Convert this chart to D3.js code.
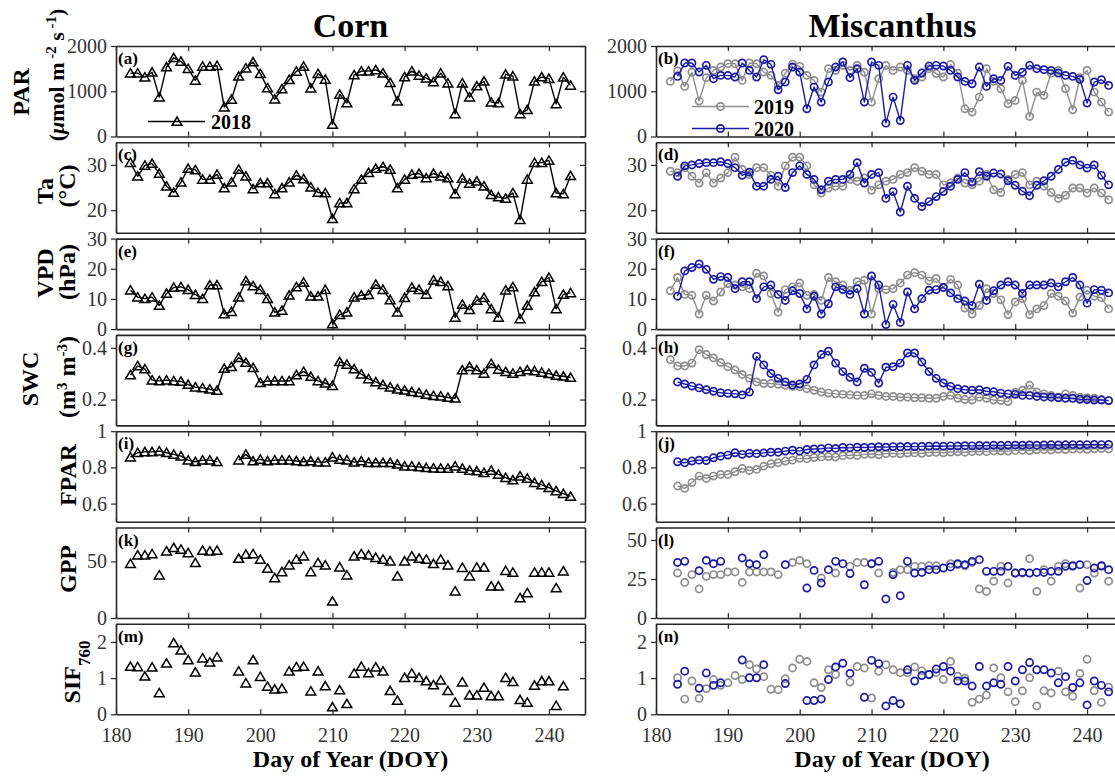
<!DOCTYPE html>
<html>
<head>
<meta charset="utf-8">
<script src="https://cdn.jsdelivr.net/npm/d3@7"></script>
<style>
  html, body { margin: 0; padding: 0; background: #fff; overflow: hidden; }
  svg { display: block; }
</style>
</head>
<body>
<svg id="chart" width="1115" height="776"></svg>
<script>
// ---------------- data ----------------
const cornDays = d3.range(182, 244);   // 2018 corn, DOY 182-243
const mis19Days = d3.range(182, 244);  // 2019 miscanthus
const mis20Days = d3.range(183, 244);  // 2020 miscanthus
const mis19LateDays = d3.range(183, 244);

const xTickValues = [180, 190, 200, 210, 220, 230, 240];

// Corn 2018
const parCorn = [1400,1400,1310,1420,870,1535,1740,1660,1500,1240,
  1550,1550,1565,650,820,1330,1510,1645,1390,1075,
  825,1050,1255,1440,1550,1070,1390,1260,265,930,
  740,1360,1445,1445,1470,1400,1190,780,1315,1445,
  1350,1290,1205,1400,1180,500,1180,870,1115,1220,
  760,740,1375,1335,500,590,1220,1315,1280,720,
  1310,1130];
const taCorn = [30.5,27.5,29.9,30.3,28.1,25.3,23.9,26.2,29.2,28.9,
  26.8,26.8,27.9,24.9,26.2,29.0,27.5,24.7,26.0,26.0,
  23.6,24.9,26.2,27.7,26.9,25.1,23.9,23.8,18.1,21.6,
  21.6,24.7,26.8,28.3,29.2,29.6,29.0,24.9,26.8,27.9,
  28.1,27.1,28.1,27.5,27.1,23.6,27.0,25.9,26.4,25.3,
  23.4,22.9,22.6,23.8,17.9,26.8,30.5,30.5,31.0,23.8,
  23.6,27.6];
const vpdCorn = [12.9,10.6,10.1,10.6,7.8,11.8,13.8,14.0,13.1,11.4,
  10.1,14.6,14.6,5.0,5.8,10.6,16.0,14.3,13.1,10.1,
  5.6,6.2,11.2,14.0,15.5,10.9,10.9,13.1,1.7,4.8,
  5.6,10.6,11.2,11.4,14.8,13.1,9.7,5.6,10.4,13.8,
  13.1,11.5,16.2,15.7,14.3,3.9,8.2,6.4,9.5,10.4,
  6.7,3.9,12.9,14.0,3.4,7.8,12.3,15.7,17.1,6.7,
  11.5,12.0];
const swcCorn = [0.295,0.330,0.318,0.275,0.272,0.275,0.272,0.270,0.258,0.248,
  0.245,0.240,0.235,0.320,0.327,0.362,0.343,0.323,0.265,0.272,
  0.272,0.272,0.272,0.295,0.308,0.289,0.272,0.263,0.254,0.346,
  0.336,0.318,0.298,0.280,0.268,0.257,0.248,0.240,0.236,0.230,
  0.226,0.220,0.215,0.213,0.208,0.205,0.314,0.327,0.314,0.301,
  0.339,0.316,0.308,0.301,0.308,0.314,0.311,0.305,0.300,0.293,
  0.290,0.285];
const fparCorn = [0.857,0.881,0.886,0.886,0.890,0.881,0.872,0.862,0.840,0.831,
  0.840,0.840,0.831,null,null,0.840,0.872,0.835,0.844,0.835,
  0.840,0.840,0.840,0.835,0.831,0.835,0.829,0.829,0.857,0.844,
  0.840,0.829,0.835,0.826,0.826,0.826,0.826,0.817,0.807,0.807,
  0.802,0.798,0.796,0.794,0.794,0.807,0.794,0.783,0.780,0.771,
  0.783,0.761,0.743,0.730,0.752,0.739,0.716,0.703,0.688,0.670,
  0.655,0.640];
const gppCorn = [48.0,55.6,55.6,56.7,37.9,59.1,62.1,60.6,57.6,48.8,
  59.7,59.1,59.7,null,null,52.6,56.2,56.7,51.8,43.8,
  35.5,40.8,46.7,51.8,54.7,40.8,48.8,46.7,14.8,45.0,
  37.9,54.7,56.7,55.6,53.4,51.8,50.3,37.0,50.3,54.7,
  52.6,51.8,47.9,51.8,46.7,23.7,44.5,37.0,44.7,44.7,
  28.1,28.1,41.8,40.3,17.7,22.2,40.3,40.3,40.3,26.6,
  41.4,null];
const sifCorn = [1.32,1.31,1.05,1.30,0.59,1.41,1.97,1.77,1.50,1.16,
  1.55,1.44,1.58,null,null,1.19,0.86,1.50,1.04,0.77,
  0.69,0.71,1.19,1.31,1.32,0.64,1.19,0.78,0.20,0.67,
  0.29,1.13,1.32,1.14,1.30,1.19,0.65,0.38,1.01,1.13,
  1.01,0.92,0.81,0.94,0.65,0.33,0.89,0.53,0.53,0.74,
  0.51,0.51,1.01,0.90,0.40,0.33,0.80,0.92,0.92,0.24,
  0.78,null];

// Miscanthus 2019 (DOY 182-243)
const par19 = [1218,1450,1107,1420,782,1299,1460,1535,1610,1610,
  1240,1624,1610,1424,1350,1129,1400,1600,1550,1350,
  1240,981,1500,1460,1570,1460,1570,1420,760,1277,
  1570,1460,1535,1460,1277,1314,1500,1390,1314,1590,
  1400,612,539,871,1500,1218,1055,723,797,1240,
  443,981,907,1400,1460,1055,590,1300,1461,981,
  760,539];
const ta19 = [28.6,28.3,29.4,27.5,26.0,28.3,26.0,27.1,28.3,31.7,
  29.0,27.9,29.4,29.4,27.7,25.3,29.8,31.7,31.7,29.8,
  25.6,23.8,24.9,25.3,25.3,26.8,26.4,27.1,24.4,25.6,
  26.4,26.8,27.9,28.3,29.4,28.6,27.9,27.9,25.6,26.0,
  27.1,26.0,25.6,26.4,27.9,24.5,23.9,26.8,27.9,28.3,
  25.6,26.4,25.3,23.9,22.6,23.3,24.9,24.9,23.8,24.9,
  23.8,22.3];
const vpd19 = [12.7,17.1,11.5,11.2,5.0,11.2,9.3,12.3,15.1,14.6,
  14.0,13.4,18.5,17.6,11.8,5.6,13.1,14.0,15.3,11.2,
  11.5,9.5,17.1,15.7,14.6,12.9,15.7,16.2,5.0,13.4,
  13.1,13.4,15.3,17.9,18.7,17.9,16.0,16.8,13.8,16.5,
  14.6,7.0,5.0,7.8,13.4,11.8,9.7,4.8,9.0,10.1,
  4.8,6.7,7.8,11.8,10.9,9.3,5.3,10.6,12.9,10.9,
  10.4,6.7];
const swc19 = [0.354,0.330,0.330,0.341,0.393,0.374,0.361,0.343,0.327,0.314,
  0.297,0.282,0.268,0.262,0.262,0.259,0.255,0.251,0.249,0.242,
  0.236,0.229,0.225,0.222,0.220,0.218,0.216,0.216,0.222,0.216,
  0.212,0.212,0.209,0.209,0.207,0.207,0.205,0.205,0.212,0.216,
  0.205,0.200,0.198,0.209,0.205,0.198,0.196,0.192,0.228,0.236,
  0.255,0.229,0.222,0.216,0.209,0.222,0.216,0.209,0.207,0.205,
  0.200,0.196];
// Miscanthus 2019 (DOY 183-243)
const fpar19 = [0.697,0.684,0.716,0.752,0.739,0.752,0.761,0.761,0.776,0.794,
  0.783,0.789,0.807,0.820,0.826,0.835,0.840,0.850,0.848,0.855,
  0.858,0.860,0.857,0.865,0.868,0.866,0.872,0.874,0.870,0.876,
  0.877,0.875,0.879,0.880,0.878,0.882,0.883,0.881,0.885,0.886,
  0.884,0.888,0.889,0.887,0.891,0.892,0.890,0.894,0.895,0.893,
  0.897,0.898,0.896,0.900,0.899,0.901,0.902,0.900,0.903,0.904,
  0.902];
const gpp19 = [28.8,22.8,27.8,18.6,26.7,27.8,27.8,29.5,29.5,22.8,
  29.5,29.5,29.5,29.5,27.8,null,35.6,36.9,34.8,null,
  25.6,null,28.8,null,33.1,35.6,35.6,34.8,28.8,null,
  29.2,31.0,31.0,33.1,33.1,33.5,33.5,null,34.8,34.2,
  33.5,35.6,18.6,17.0,23.6,33.1,22.4,28.8,28.8,38.0,
  17.0,31.0,23.6,33.1,34.8,33.1,19.2,34.2,28.8,33.1,
  23.6];
const sif19 = [1.01,0.42,0.92,0.44,0.71,0.96,0.80,0.87,1.07,0.96,
  1.37,1.25,1.04,0.69,0.68,0.98,1.28,1.52,1.46,0.87,
  0.74,1.23,1.10,null,0.89,1.32,1.28,0.45,1.19,1.37,
  1.23,1.15,1.15,1.31,1.20,1.10,1.15,0.96,1.46,1.05,
  1.00,0.33,0.42,0.53,1.28,1.01,0.62,0.35,0.65,1.01,
  0.23,0.65,0.59,1.19,0.62,0.50,1.13,1.52,0.65,0.33,
  0.75];

// Miscanthus 2020 (DOY 183-243)
const par20 = [1328,1624,1624,1424,1572,1277,1350,1350,1314,1624,
  1461,1314,1697,1594,1033,1203,1535,1424,612,1092,
  760,1203,1535,1646,1299,1498,760,1646,1572,295,
  871,354,1572,1240,1402,1557,1572,1557,1461,1314,
  1218,1166,1535,1107,1277,1240,1550,1350,1420,1572,
  1498,1476,1461,1402,1350,1328,1262,738,1203,1255,
  1129];
const ta20 = [27.5,29.8,30.0,30.3,30.5,30.5,30.7,30.3,29.4,27.7,
  28.4,25.3,25.3,26.8,27.5,25.0,28.3,29.8,27.9,26.8,
  24.5,26.4,26.8,26.8,27.9,30.5,26.0,27.9,28.3,22.6,
  24.1,19.6,25.3,22.6,20.8,21.9,23.0,24.1,25.3,26.8,
  28.3,26.2,28.5,27.5,28.2,28.0,26.5,25.5,24.2,23.2,
  25.5,26.5,27.5,29.0,30.6,31.0,30.0,29.3,30.0,27.7,
  25.6];
const vpd20 = [10.9,19.3,20.4,21.6,19.8,16.5,17.4,17.1,13.4,15.7,
  15.7,10.1,14.0,14.6,11.5,9.5,12.7,11.8,6.7,10.9,
  5.0,8.4,14.0,13.1,11.5,13.4,5.0,17.6,14.6,1.5,
  8.2,2.2,12.3,6.7,10.1,12.9,13.1,13.8,12.0,10.1,
  9.3,7.8,14.9,9.5,12.7,14.6,15.7,14.6,11.8,14.6,
  14.6,14.6,15.3,14.0,15.7,17.1,14.6,8.6,13.1,12.9,
  12.0];
const swc20 = [0.268,0.260,0.252,0.245,0.238,0.232,0.226,0.224,0.222,0.218,
  0.229,0.367,0.334,0.301,0.282,0.268,0.256,0.260,0.278,0.334,
  0.374,0.387,0.341,0.308,0.286,0.268,0.321,0.305,0.264,0.325,
  0.327,0.341,0.380,0.380,0.345,0.308,0.282,0.264,0.251,0.242,
  0.238,0.236,0.238,0.232,0.230,0.225,0.222,0.220,0.216,0.216,
  0.212,0.210,0.209,0.207,0.205,0.205,0.201,0.200,0.198,0.198,
  0.196];
const fpar20 = [0.831,0.826,0.835,0.840,0.838,0.853,0.862,0.868,0.881,0.872,
  0.878,0.876,0.880,0.884,0.884,0.890,0.895,0.890,0.899,0.902,
  0.903,0.908,0.905,0.910,0.908,0.912,0.910,0.912,0.914,0.912,
  0.915,0.914,0.916,0.915,0.916,0.917,0.918,0.917,0.919,0.918,
  0.920,0.919,0.921,0.920,0.922,0.921,0.922,0.923,0.922,0.924,
  0.923,0.924,0.925,0.924,0.925,0.926,0.925,0.926,0.927,0.926,
  0.927];
const gpp20 = [35.6,36.3,null,30.3,36.9,34.8,36.3,null,null,38.5,
  34.8,34.2,40.6,null,null,34.2,null,null,19.2,30.5,
  22.4,31.0,36.3,34.8,28.5,null,21.3,34.8,36.3,12.2,
  27.8,14.3,36.3,28.8,29.2,31.0,31.0,32.0,32.7,34.8,
  34.2,36.3,37.4,29.9,29.9,29.9,33.1,28.8,29.2,28.8,
  29.2,29.2,29.9,29.9,33.1,33.5,34.2,24.0,32.0,33.5,
  31.0];
const sif20 = [0.83,1.19,null,0.72,1.14,0.80,0.87,null,null,1.50,
  1.01,1.01,1.37,null,null,0.85,null,null,0.38,0.38,
  0.42,0.96,1.31,1.41,1.13,null,0.47,1.49,1.40,0.23,
  0.38,0.29,1.23,0.92,1.07,1.10,1.25,1.32,1.19,0.92,
  0.92,0.78,1.32,0.78,0.87,0.83,1.32,0.92,1.23,1.43,
  1.23,1.23,1.14,0.87,1.04,0.74,0.87,0.26,0.92,0.80,
  0.62];

// ---------------- styling / layout ----------------
const svg = d3.select('#chart');
const SERIF = '"Liberation Serif","Times New Roman",Times,serif';
const INK = '#262626';
const BLUE = '#1b1ba6';
const GREY = '#8e8e8e';
const colRange = [[116, 585], [656, 1123]];
const rowTop = r => 46 + r * 96.3;
const rowH = 90.5;
const TICK_FONT = '20px';

const triPath = 'M0,-4.5L4.9,3.8L-4.9,3.8Z';

function addSeries(g, x, y, s) {
  const data = s.days.map((d, i) => ({ d, v: s.values[i] }));
  if (s.line) {
    g.append('path').datum(data)
      .attr('fill', 'none').attr('stroke', s.color).attr('stroke-width', 1.4)
      .attr('stroke-linejoin', 'round')
      .attr('d', d3.line().defined(p => p.v != null).x(p => x(p.d)).y(p => y(p.v)));
  }
  const pts = data.filter(p => p.v != null);
  if (s.marker === 'tri') {
    g.selectAll(null).data(pts).join('path')
      .attr('d', triPath)
      .attr('transform', p => `translate(${x(p.d)},${y(p.v)})`)
      .attr('fill', 'none').attr('stroke', s.color).attr('stroke-width', 1.5);
  } else {
    g.selectAll(null).data(pts).join('circle')
      .attr('cx', p => x(p.d)).attr('cy', p => y(p.v)).attr('r', 3.6)
      .attr('fill', 'none').attr('stroke', s.color).attr('stroke-width', 1.7);
  }
}

function styleAxis(sel) {
  sel.select('.domain').attr('stroke', INK).attr('stroke-width', 1.6);
  sel.selectAll('.tick line').attr('stroke', INK).attr('stroke-width', 1.2);
  sel.selectAll('.tick text').attr('fill', '#333')
    .style('font-family', SERIF).style('font-size', TICK_FONT);
}

const plainNum = d => String(d);

function drawPanel(col, row, spec) {
  const x = d3.scaleLinear().domain([180, 245]).range(colRange[col]);
  const top = rowTop(row), bot = top + rowH;
  const y = d3.scaleLinear().domain(spec.domain).range([bot, top]);
  const g = svg.append('g');

  spec.series.forEach(s => addSeries(g, x, y, s));

  if (spec.legend) spec.legend(g);

  // panel tag
  g.append('text').attr('x', colRange[col][0] + 2).attr('y', top + 18)
    .style('font-family', SERIF).style('font-size', '17px').style('font-weight', 'bold')
    .attr('fill', '#000').text(spec.tag);

  const isBottom = row === 6;
  g.append('g').attr('transform', `translate(0,${bot})`)
    .call(d3.axisBottom(x).tickValues(xTickValues).tickSize(-5).tickSizeOuter(0)
      .tickPadding(14).tickFormat(isBottom ? plainNum : () => ''))
    .call(styleAxis);
  g.append('g').attr('transform', `translate(0,${top})`)
    .call(d3.axisTop(x).tickValues(xTickValues).tickSize(-5).tickSizeOuter(0).tickFormat(() => ''))
    .call(styleAxis);
  g.append('g').attr('transform', `translate(${colRange[col][0]},0)`)
    .call(d3.axisLeft(y).tickValues(spec.ticks).tickSize(5).tickPadding(4).tickSizeOuter(0)
      .tickFormat(plainNum))
    .call(styleAxis);
  g.append('g').attr('transform', `translate(${colRange[col][1]},0)`)
    .call(d3.axisRight(y).tickValues(spec.ticks).tickSize(-5).tickSizeOuter(0).tickFormat(() => ''))
    .call(styleAxis);

  if (isBottom) {
    g.append('text')
      .attr('x', col === 0 ? 350.5 : 892)
      .attr('y', 767).attr('text-anchor', 'middle')
      .style('font-family', SERIF).style('font-size', '24px').style('font-weight', 'bold')
      .attr('fill', '#000').text('Day of Year (DOY)');
  }
  return { x, y };
}

const cornLine = v => ({ days: cornDays, values: v, color: '#000', marker: 'tri', line: true });
const cornDots = v => ({ days: cornDays, values: v, color: '#000', marker: 'tri', line: false });

function legendCorn(g) {
  const ly = 121.5;
  g.append('line').attr('x1', 148).attr('x2', 205).attr('y1', ly).attr('y2', ly)
    .attr('stroke', '#000').attr('stroke-width', 1.4);
  g.append('path').attr('d', triPath).attr('transform', `translate(177,${ly})`)
    .attr('fill', 'none').attr('stroke', '#000').attr('stroke-width', 1.5);
  g.append('text').attr('x', 211).attr('y', ly + 7.5)
    .style('font-family', SERIF).style('font-size', '20px').style('font-weight', 'bold').text('2018');
}
function legendMis(g) {
  [[GREY, 106.5, '2019'], [BLUE, 128.5, '2020']].forEach(([c, ly, t]) => {
    g.append('line').attr('x1', 692).attr('x2', 749).attr('y1', ly).attr('y2', ly)
      .attr('stroke', c).attr('stroke-width', 1.4);
    g.append('circle').attr('cx', 720.5).attr('cy', ly).attr('r', 3.6)
      .attr('fill', 'none').attr('stroke', c).attr('stroke-width', 1.7);
    g.append('text').attr('x', 754).attr('y', ly + 7.5)
      .style('font-family', SERIF).style('font-size', '20px').style('font-weight', 'bold')
      .attr('fill', '#000').text(t);
  });
}

// ---- left column: corn ----
drawPanel(0, 0, { tag: '(a)', domain: [0, 2000], ticks: [0, 1000, 2000], series: [cornLine(parCorn)], legend: legendCorn });
drawPanel(0, 1, { tag: '(c)', domain: [15, 35], ticks: [20, 30], series: [cornLine(taCorn)] });
drawPanel(0, 2, { tag: '(e)', domain: [0, 30], ticks: [0, 10, 20, 30], series: [cornLine(vpdCorn)] });
drawPanel(0, 3, { tag: '(g)', domain: [0.1, 0.45], ticks: [0.2, 0.4], series: [cornLine(swcCorn)] });
drawPanel(0, 4, { tag: '(i)', domain: [0.5, 1], ticks: [0.6, 0.8, 1], series: [cornLine(fparCorn)] });
drawPanel(0, 5, { tag: '(k)', domain: [0, 80], ticks: [0, 50], series: [cornDots(gppCorn)] });
drawPanel(0, 6, { tag: '(m)', domain: [0, 2.5], ticks: [0, 1, 2], series: [cornDots(sifCorn)] });

// ---- right column: miscanthus ----
const m19 = (v, days = mis19Days, line = true) => ({ days, values: v, color: GREY, marker: 'circ', line });
const m20 = (v, line = true) => ({ days: mis20Days, values: v, color: BLUE, marker: 'circ', line });
drawPanel(1, 0, { tag: '(b)', domain: [0, 2000], ticks: [0, 1000, 2000], series: [m19(par19), m20(par20)], legend: legendMis });
drawPanel(1, 1, { tag: '(d)', domain: [15, 35], ticks: [20, 30], series: [m19(ta19), m20(ta20)] });
drawPanel(1, 2, { tag: '(f)', domain: [0, 30], ticks: [0, 10, 20, 30], series: [m19(vpd19), m20(vpd20)] });
drawPanel(1, 3, { tag: '(h)', domain: [0.1, 0.45], ticks: [0.2, 0.4], series: [m19(swc19), m20(swc20)] });
drawPanel(1, 4, { tag: '(j)', domain: [0.5, 1], ticks: [0.6, 0.8, 1], series: [m19(fpar19, mis19LateDays), m20(fpar20)] });
drawPanel(1, 5, { tag: '(l)', domain: [0, 58], ticks: [0, 25, 50], series: [m19(gpp19, mis19LateDays, false), m20(gpp20, false)] });
drawPanel(1, 6, { tag: '(n)', domain: [0, 2.5], ticks: [0, 1, 2], series: [m19(sif19, mis19LateDays, false), m20(sif20, false)] });

// ---- titles ----
const title = (x, t) => svg.append('text').attr('x', x).attr('y', 37).attr('text-anchor', 'middle')
  .style('font-family', SERIF).style('font-size', '34px').style('font-weight', 'bold').attr('fill', '#000').text(t);
title(350.5, 'Corn');
title(892.5, 'Miscanthus');

// ---- y-axis labels (left column only) ----
function ylab(x, y, build, size = '24px') {
  const t = svg.append('text').attr('transform', `translate(${x},${y}) rotate(-90)`)
    .attr('text-anchor', 'middle')
    .style('font-family', SERIF).style('font-size', size).style('font-weight', 'bold').attr('fill', '#000');
  build(t);
  return t;
}
const sup = (t, s) => t.append('tspan').attr('baseline-shift', 'super').style('font-size', '15px').text(s);
const plain = (t, s) => t.append('tspan').text(s);

ylab(29, 92, t => plain(t, 'PAR'));
ylab(64, 75, t => {
  plain(t, '(');
  t.append('tspan').style('font-style', 'italic').text('\u03bc');
  plain(t, 'mol m');
  sup(t, ' -2');
  plain(t, ' s');
  sup(t, ' -1');
  plain(t, ')');
}, '22px');
ylab(53, 191, t => plain(t, 'Ta'));
ylab(75, 186, t => plain(t, '(\u00b0C)'));
ylab(53, 273, t => plain(t, 'VPD'));
ylab(75, 272, t => plain(t, '(hPa)'));
ylab(38, 379, t => plain(t, 'SWC'));
ylab(75, 377, t => {
  plain(t, '(m');
  sup(t, '3');
  plain(t, ' m');
  sup(t, '-3');
  plain(t, ')');
});
ylab(76, 475, t => plain(t, 'FPAR'));
ylab(76, 569, t => plain(t, 'GPP'));
ylab(80, 672, t => {
  plain(t, 'SIF');
  t.append('tspan').attr('baseline-shift', 'sub').style('font-size', '17px').text('760');
});
</script>
</body>
</html>
